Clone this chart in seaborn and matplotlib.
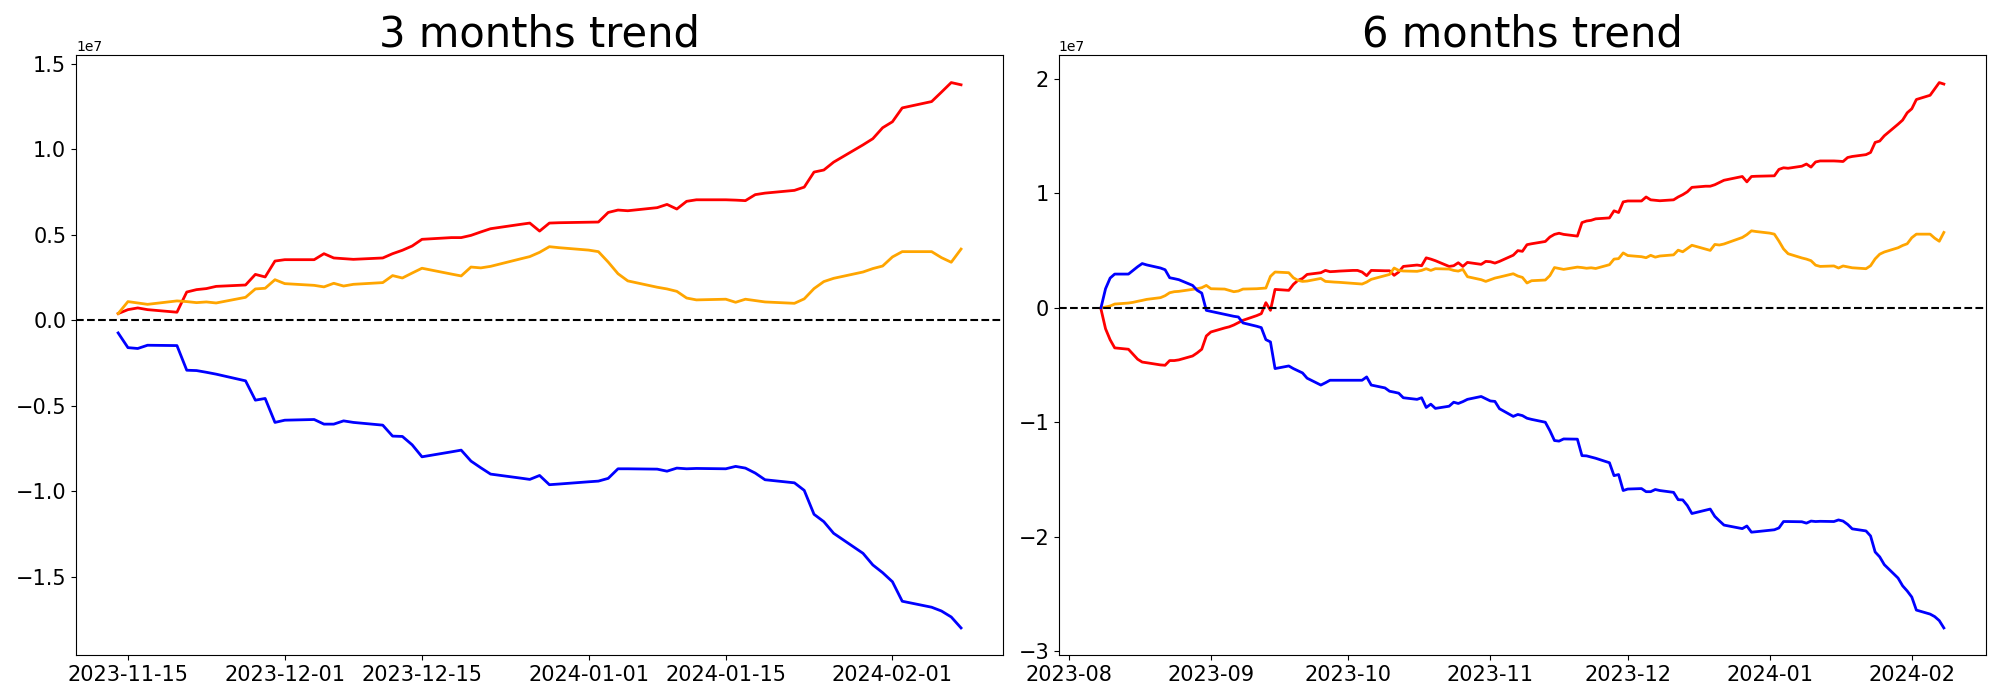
import numpy as np
import pandas as pd
import matplotlib
matplotlib.use("Agg")
from matplotlib import pyplot as plt
import matplotlib.dates as mdates
import seaborn as sns

# values are in units of 1e7
SCALE = 1e7

dates_3m = pd.bdate_range("2023-11-14", "2024-02-08")
dates_6m = pd.bdate_range("2023-08-08", "2024-02-08")

red_3m = [0.039, 0.062, 0.072, 0.062,
          0.047, 0.165, 0.179, 0.185, 0.198,
          0.206, 0.268, 0.253, 0.346, 0.354,
          0.354, 0.389, 0.364, 0.360, 0.356,
          0.364, 0.389, 0.409, 0.434, 0.473,
          0.483, 0.483, 0.496, 0.516, 0.535,
          0.560, 0.568, 0.521, 0.568, 0.570,
          0.573, 0.574, 0.630, 0.644, 0.640,
          0.658, 0.677, 0.650, 0.695, 0.704,
          0.704, 0.702, 0.699, 0.734, 0.743,
          0.759, 0.778, 0.866, 0.878, 0.924,
          1.025, 1.061, 1.125, 1.160, 1.241,
          1.278, 1.333, 1.389, 1.376]

orange_3m = [0.039, 0.109, 0.101, 0.093,
             0.113, 0.109, 0.103, 0.107, 0.101,
             0.134, 0.183, 0.187, 0.237, 0.214,
             0.204, 0.195, 0.216, 0.200, 0.210,
             0.220, 0.261, 0.247, 0.276, 0.304,
             0.270, 0.259, 0.311, 0.306, 0.315,
             0.358, 0.372, 0.397, 0.430, 0.424,
             0.410, 0.401, 0.340, 0.272, 0.230,
             0.193, 0.183, 0.169, 0.130, 0.119,
             0.123, 0.105, 0.123, 0.115, 0.107,
             0.099, 0.125, 0.185, 0.226, 0.245,
             0.282, 0.302, 0.317, 0.370, 0.401,
             0.401, 0.366, 0.339, 0.416]

blue_3m = [-0.074, -0.160, -0.165, -0.146,
           -0.148, -0.292, -0.294, -0.304, -0.315,
           -0.354, -0.467, -0.457, -0.597, -0.584,
           -0.580, -0.607, -0.607, -0.588, -0.597,
           -0.613, -0.677, -0.679, -0.728, -0.798,
           -0.769, -0.759, -0.823, -0.862, -0.899,
           -0.922, -0.930, -0.907, -0.961, -0.957,
           -0.944, -0.940, -0.924, -0.868, -0.868,
           -0.870, -0.882, -0.864, -0.868, -0.866,
           -0.868, -0.854, -0.864, -0.893, -0.932,
           -0.950, -0.994, -1.134, -1.177, -1.245,
           -1.362, -1.430, -1.475, -1.528, -1.642,
           -1.677, -1.699, -1.734, -1.798]

red_6m = [-0.010, -0.183, -0.279, -0.350,
          -0.362, -0.406, -0.449, -0.474, -0.480,
          -0.499, -0.502, -0.461, -0.461, -0.455,
          -0.421, -0.394, -0.362, -0.246, -0.211,
          -0.176, -0.166, -0.150, -0.129, -0.109,
          -0.068, -0.051, 0.045, -0.022, 0.161,
          0.153, 0.205, 0.240, 0.257, 0.292,
          0.307, 0.327, 0.316, 0.318, 0.321,
          0.327, 0.327, 0.313, 0.281, 0.327,
          0.324, 0.324, 0.284, 0.313, 0.362,
          0.374, 0.368, 0.437, 0.426, 0.412,
          0.362, 0.368, 0.394, 0.362, 0.397,
          0.380, 0.406, 0.403, 0.391, 0.406,
          0.460, 0.500, 0.494, 0.552, 0.560,
          0.580,
          0.619, 0.642, 0.652, 0.642,
          0.627, 0.745, 0.759, 0.765, 0.778,
          0.786, 0.848, 0.833, 0.926, 0.934,
          0.934, 0.969, 0.944, 0.940, 0.936,
          0.944, 0.969, 0.989, 1.014, 1.053,
          1.063, 1.063, 1.076, 1.096, 1.115,
          1.140, 1.148, 1.101, 1.148, 1.150,
          1.153, 1.154, 1.210, 1.224, 1.220,
          1.238, 1.257, 1.230, 1.275, 1.284,
          1.284, 1.282, 1.279, 1.314, 1.323,
          1.339, 1.358, 1.446, 1.458, 1.504,
          1.605, 1.641, 1.705, 1.740, 1.821,
          1.858, 1.913, 1.969, 1.956]

orange_6m = [0.000, 0.007, 0.016, 0.033,
             0.042, 0.048, 0.057, 0.065, 0.074,
             0.089, 0.106, 0.132, 0.141, 0.144,
             0.161, 0.167, 0.176, 0.196, 0.167,
             0.164, 0.153, 0.141, 0.147, 0.164,
             0.167, 0.170, 0.173, 0.275, 0.313,
             0.307, 0.263, 0.240, 0.231, 0.234,
             0.257, 0.231, 0.228, 0.225, 0.223,
             0.214, 0.211, 0.208, 0.225, 0.249,
             0.281, 0.292, 0.348, 0.327, 0.322,
             0.319, 0.327, 0.342, 0.327, 0.342,
             0.339, 0.327, 0.321, 0.336, 0.272,
             0.246, 0.231, 0.246, 0.260, 0.269,
             0.298, 0.278, 0.266, 0.217, 0.237,
             0.243,
             0.282, 0.352, 0.344, 0.336,
             0.356, 0.352, 0.346, 0.350, 0.344,
             0.377, 0.426, 0.430, 0.480, 0.457,
             0.447, 0.438, 0.459, 0.443, 0.453,
             0.463, 0.504, 0.490, 0.519, 0.547,
             0.513, 0.502, 0.554, 0.549, 0.558,
             0.601, 0.615, 0.640, 0.673, 0.667,
             0.653, 0.644, 0.583, 0.515, 0.473,
             0.436, 0.426, 0.412, 0.373, 0.362,
             0.366, 0.348, 0.366, 0.358, 0.350,
             0.342, 0.368, 0.428, 0.469, 0.488,
             0.525, 0.545, 0.560, 0.613, 0.644,
             0.644, 0.609, 0.582, 0.659]

blue_6m = [0.000, 0.167, 0.260, 0.295,
           0.295, 0.327, 0.359, 0.387, 0.375,
           0.348, 0.333, 0.263, 0.255, 0.246,
           0.196, 0.153, 0.129, -0.022, -0.031,
           -0.057, -0.065, -0.074, -0.080, -0.132,
           -0.161, -0.173, -0.278, -0.298, -0.531,
           -0.508, -0.531, -0.550, -0.569, -0.615,
           -0.675, -0.655, -0.633, -0.633, -0.633,
           -0.633, -0.633, -0.633, -0.604, -0.675,
           -0.700, -0.729, -0.737, -0.746, -0.786,
           -0.800, -0.786, -0.871, -0.842, -0.879,
           -0.860, -0.825, -0.836, -0.820, -0.800,
           -0.775, -0.795, -0.814, -0.818, -0.882,
           -0.949, -0.932, -0.942, -0.965, -0.975,
           -1.000,
           -1.074, -1.160, -1.165, -1.146,
           -1.148, -1.292, -1.294, -1.304, -1.315,
           -1.354, -1.467, -1.457, -1.597, -1.584,
           -1.580, -1.607, -1.607, -1.588, -1.597,
           -1.613, -1.677, -1.679, -1.728, -1.798,
           -1.769, -1.759, -1.823, -1.862, -1.899,
           -1.922, -1.930, -1.907, -1.961, -1.957,
           -1.944, -1.940, -1.924, -1.868, -1.868,
           -1.870, -1.882, -1.864, -1.868, -1.866,
           -1.868, -1.854, -1.864, -1.893, -1.932,
           -1.950, -1.994, -2.134, -2.177, -2.245,
           -2.362, -2.430, -2.475, -2.528, -2.642,
           -2.677, -2.699, -2.734, -2.798]

titles = ["3 months trend", "6 months trend"]
colors = ["red", "orange", "blue"]


def plot_trend(ax, dates, series, title):
    for values, color in zip(series, colors):
        sns.lineplot(x=dates, y=np.array(values) * SCALE, color=color,
                     linewidth=2, ax=ax)
    ax.axhline(0, color="black", linestyle="--", linewidth=1.5)
    ax.set_title(title, fontsize=30)
    ax.set_xlabel("")
    ax.set_ylabel("")
    ax.tick_params(labelsize=15)


fig, (ax1, ax2) = plt.subplots(1, 2, figsize=(20, 7), dpi=100)
fig.subplots_adjust(left=0.038, right=0.993, top=0.921, bottom=0.064, wspace=0.06)

plot_trend(ax1, dates_3m, [red_3m, orange_3m, blue_3m], titles[0])
ax1.xaxis.set_major_locator(mdates.DayLocator(bymonthday=[1, 15]))
ax1.xaxis.set_major_formatter(mdates.DateFormatter("%Y-%m-%d"))

plot_trend(ax2, dates_6m, [red_6m, orange_6m, blue_6m], titles[1])
ax2.xaxis.set_major_locator(mdates.MonthLocator())
ax2.xaxis.set_major_formatter(mdates.DateFormatter("%Y-%m"))

plt.savefig("out.png", dpi=100)
